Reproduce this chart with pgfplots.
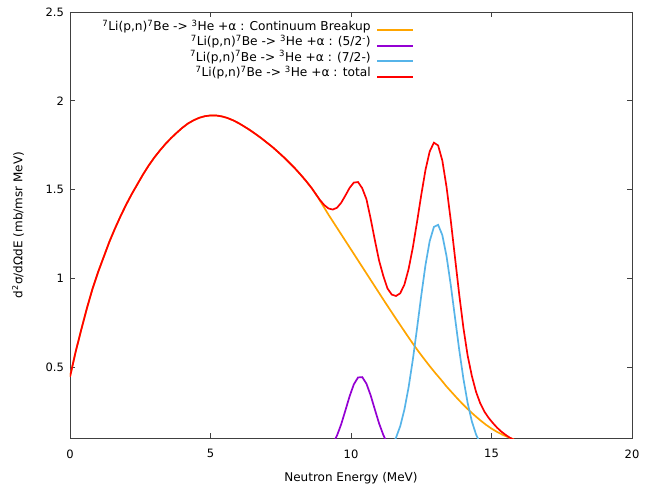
\documentclass[border=0pt]{standalone}
\usepackage{fontspec}
\setmainfont{DejaVu Sans}
\usepackage{pgfplots}
\usepackage{pgfplotstable}
\pgfplotsset{compat=1.18}

\definecolor{cbreak}{HTML}{FFA500}
\definecolor{lvlA}{HTML}{9400D3}
\definecolor{lvlB}{HTML}{56B4E9}
\definecolor{tot}{HTML}{FF0000}

% key sample: a short solid bar in the given colour
\pgfplotsset{
  keybar/.style={legend image code/.code={%
    \node[inner sep=0pt, anchor=west] at (0pt,0pt)
      {\textcolor{#1}{\rule[-1pt]{36pt}{2pt}}};}},
}

% Continuum breakup spectrum
\pgfplotstableread{
E y
0.0 0.445
0.2 0.585
0.4 0.71
0.6 0.83
0.8 0.94
1.0 1.035
1.2 1.12
1.4 1.205
1.6 1.28
1.8 1.35
2.0 1.415
2.2 1.475
2.4 1.53
2.6 1.585
2.8 1.635
3.0 1.68
3.2 1.72
3.4 1.757
3.6 1.79
3.8 1.82
4.0 1.848
4.2 1.872
4.4 1.89
4.6 1.904
4.8 1.913
5.0 1.917
5.2 1.917
5.4 1.912
5.6 1.903
5.8 1.89
6.0 1.874
6.2 1.855
6.4 1.835
6.6 1.813
6.8 1.79
7.0 1.765
7.2 1.74
7.4 1.712
7.6 1.683
7.8 1.652
8.0 1.62
8.2 1.585
8.4 1.548
8.6 1.508
8.8 1.462
9.0 1.41
9.2 1.358
9.4 1.309
9.6 1.26
9.8 1.211
10.0 1.162
10.2 1.113
10.4 1.064
10.6 1.015
10.8 0.966
11.0 0.917
11.2 0.868
11.4 0.82
11.6 0.772
11.8 0.725
12.0 0.678
12.2 0.632
12.4 0.588
12.6 0.546
12.8 0.505
13.0 0.466
13.2 0.429
13.4 0.39
13.6 0.355
13.8 0.32
14.0 0.287
14.2 0.256
14.4 0.227
14.6 0.2
14.8 0.175
15.0 0.153
15.2 0.134
15.4 0.118
15.6 0.104
15.8 0.092
}\contdata

% 5/2- level
\pgfplotstableread{
E y
9.2 0.035
9.35 0.066
9.5 0.113
9.65 0.177
9.8 0.255
9.95 0.335
10.1 0.402
10.25 0.441
10.4 0.443
10.55 0.406
10.7 0.34
10.85 0.26
11.0 0.182
11.15 0.117
11.3 0.068
11.45 0.036
}\levAdata

% 7/2- level
\pgfplotstableread{
E y
11.3 0.031
11.45 0.058
11.6 0.101
11.75 0.166
11.9 0.26
12.05 0.386
12.2 0.541
12.35 0.718
12.5 0.902
12.65 1.074
12.8 1.209
12.95 1.289
13.1 1.301
13.25 1.243
13.4 1.124
13.55 0.962
13.7 0.78
13.85 0.598
14.0 0.434
14.15 0.298
14.3 0.194
14.45 0.12
14.6 0.07
14.75 0.039
}\levBdata

% Total
\pgfplotstableread{
E y
0.0 0.445
0.2 0.585
0.4 0.71
0.6 0.83
0.8 0.94
1.0 1.035
1.2 1.12
1.4 1.205
1.6 1.28
1.8 1.35
2.0 1.415
2.2 1.475
2.4 1.53
2.6 1.585
2.8 1.635
3.0 1.68
3.2 1.72
3.4 1.757
3.6 1.79
3.8 1.82
4.0 1.848
4.2 1.872
4.4 1.89
4.6 1.904
4.8 1.913
5.0 1.917
5.2 1.917
5.4 1.912
5.6 1.903
5.8 1.89
6.0 1.874
6.2 1.855
6.4 1.835
6.6 1.813
6.8 1.79
7.0 1.765
7.2 1.74
7.4 1.712
7.6 1.683
7.8 1.652
8.0 1.62
8.2 1.585
8.4 1.548
8.6 1.508
8.8 1.462
8.9 1.44
9.05 1.412
9.2 1.393
9.35 1.387
9.5 1.397
9.65 1.425
9.8 1.466
9.95 1.509
10.1 1.539
10.25 1.542
10.4 1.507
10.55 1.445
10.7 1.335
10.85 1.214
11.0 1.099
11.15 1.013
11.3 0.942
11.45 0.908
11.6 0.9
11.75 0.915
11.9 0.964
12.05 1.052
12.2 1.173
12.35 1.317
12.5 1.469
12.65 1.61
12.8 1.714
12.95 1.764
13.1 1.748
13.25 1.663
13.4 1.514
13.55 1.326
13.7 1.118
13.85 0.91
14.0 0.721
14.15 0.565
14.3 0.45
14.45 0.36
14.6 0.295
14.75 0.248
14.9 0.213
15.05 0.184
15.2 0.158
15.35 0.136
15.5 0.118
15.65 0.102
15.8 0.09
}\totdata

\begin{document}
\begin{tikzpicture}
\begin{axis}[
  scale only axis,
  width=562pt, height=426pt,
  xmin=0, xmax=20, ymin=0.1, ymax=2.5,
  xtick={0,5,10,15,20},
  ytick={0.5,1,1.5,2,2.5},
  tick align=inside,
  major tick length=5pt,
  tick style={black!75, line width=0.6pt},
  axis line style={black!75, line width=0.9pt},
  /pgf/number format/assume math mode=true,
  tick label style={font=\fontsize{11.5}{13}\selectfont},
  xticklabel style={yshift=-8pt},
  yticklabel style={xshift=-2.5pt},
  label style={font=\fontsize{12}{14}\selectfont},
  xlabel={Neutron Energy (MeV)},
  ylabel={d\textsuperscript{2}σ/dΩdE (mb/msr MeV)},
  x label style={at={(axis description cs:0.5,-0.094)}, anchor=center},
  y label style={at={(axis description cs:-0.0925,0.5)}, anchor=center},
  legend plot pos=right,
  legend cell align=right,
  legend style={
    at={(axis description cs:0.611,0.982)}, anchor=north east,
    draw=none, fill=none, inner sep=0pt,
    font=\fontsize{12.2}{14}\selectfont,
    row sep=0.6pt, column sep=5pt,
    nodes={inner sep=1.5pt, text height=9pt, text depth=2.8pt},
  },
]
\addplot[cbreak, line width=1.7pt, mark=none, keybar=cbreak] table[x=E, y=y] {\contdata};
\addlegendentry{\textsuperscript{7}Li(p,n)\textsuperscript{7}Be -> \textsuperscript{3}He +α : Continuum Breakup}
\addplot[lvlA, line width=1.7pt, mark=none, keybar=lvlA] table[x=E, y=y] {\levAdata};
\addlegendentry{\textsuperscript{7}Li(p,n)\textsuperscript{7}Be -> \textsuperscript{3}He +α : (5/2\textsuperscript{-})}
\addplot[lvlB, line width=1.7pt, mark=none, keybar=lvlB] table[x=E, y=y] {\levBdata};
\addlegendentry{\textsuperscript{7}Li(p,n)\textsuperscript{7}Be -> \textsuperscript{3}He +α : (7/2-)}
\addplot[tot, line width=1.7pt, mark=none, keybar=tot] table[x=E, y=y] {\totdata};
\addlegendentry{\textsuperscript{7}Li(p,n)\textsuperscript{7}Be -> \textsuperscript{3}He +α : total}
\coordinate (bl) at (rel axis cs:0,0);
\coordinate (tr) at (rel axis cs:1,1);
\end{axis}
\pgfresetboundingbox
\path[use as bounding box] ([shift={(-70pt,-54pt)}]bl) rectangle ([shift={(28pt,12pt)}]tr);
\end{tikzpicture}
\end{document}
